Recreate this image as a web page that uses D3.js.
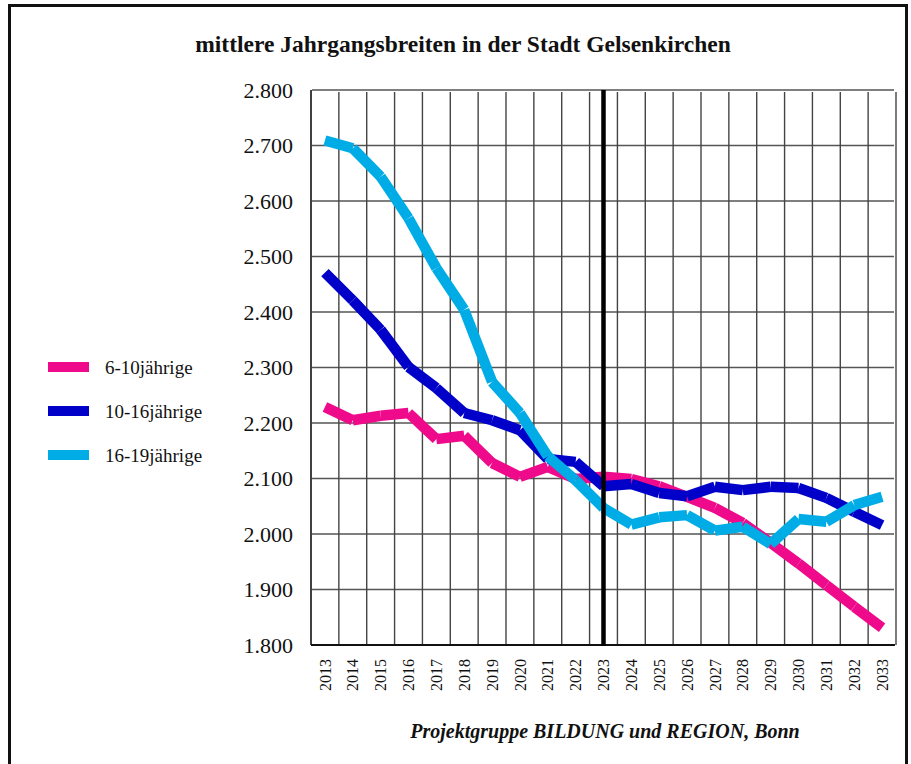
<!DOCTYPE html>
<html>
<head>
<meta charset="utf-8">
<script src="https://cdn.jsdelivr.net/npm/d3@7"></script>
<style>
  body { margin: 0; background: #fff; }
  svg { display: block; }
</style>
</head>
<body>
<script>
var width = 911, height = 764;

var years = ["2013","2014","2015","2016","2017","2018","2019","2020","2021","2022","2023",
             "2024","2025","2026","2027","2028","2029","2030","2031","2032","2033"];
var yTicks = [1.8, 1.9, 2.0, 2.1, 2.2, 2.3, 2.4, 2.5, 2.6, 2.7, 2.8];

var age6to10 = [2.229, 2.205, 2.213, 2.218, 2.171, 2.177, 2.128, 2.103, 2.121, 2.099, 2.103,
                2.099, 2.086, 2.067, 2.047, 2.020, 1.984, 1.947, 1.908, 1.869, 1.831];
var age10to16 = [2.471, 2.421, 2.368, 2.301, 2.263, 2.218, 2.205, 2.187, 2.135, 2.130, 2.086,
                 2.090, 2.074, 2.068, 2.085, 2.079, 2.085, 2.083, 2.065, 2.040, 2.016];
var age16to19 = [2.709, 2.695, 2.644, 2.569, 2.479, 2.404, 2.274, 2.218, 2.140, 2.097, 2.047,
                 2.017, 2.030, 2.034, 2.006, 2.013, 1.982, 2.027, 2.022, 2.052, 2.067];

var seriesNames = ["6-10jährige", "10-16jährige", "16-19jährige"];
var seriesColors = ["#ee0a8a", "#0000c8", "#00ace6"];
var seriesData = [age6to10, age10to16, age16to19];
var markYear = "2023";

var svg = d3.select("body").append("svg")
    .attr("width", width)
    .attr("height", height);

svg.append("rect")
    .attr("width", width).attr("height", height)
    .attr("fill", "#fff");

// frame
svg.append("rect")
    .attr("x", 9.5).attr("y", 5.5)
    .attr("width", 897).attr("height", 820)
    .attr("fill", "none")
    .attr("stroke", "#111")
    .attr("stroke-width", 3);

var x = d3.scaleBand().domain(years).range([311, 896]).padding(0);
var y = d3.scaleLinear().domain([1.8, 2.8]).range([645, 90]);
var cx = function(d) { return x(d) + x.bandwidth() / 2; };

var grid = svg.append("g");

// horizontal grid lines
grid.selectAll(".hline")
    .data(yTicks.slice(1))
    .enter().append("line")
    .attr("x1", 312).attr("x2", 894)
    .attr("y1", function(d) { return y(d); })
    .attr("y2", function(d) { return y(d); })
    .attr("stroke", "#555")
    .attr("stroke-width", 1.4);

// vertical grid lines at category boundaries
var bounds = years.slice(1).map(function(d) { return x(d); }).concat([x.range()[1]]);
grid.selectAll(".vline")
    .data(bounds)
    .enter().append("line")
    .attr("x1", function(d) { return d; })
    .attr("x2", function(d) { return d; })
    .attr("y1", 92).attr("y2", 645)
    .attr("stroke", "#444")
    .attr("stroke-width", 1.4);

// y axis
var yAxis = d3.axisLeft(y)
    .tickValues(yTicks)
    .tickFormat(d3.format(".3f"))
    .tickSize(0)
    .tickPadding(18);

var gy = svg.append("g")
    .attr("transform", "translate(311,0)")
    .call(yAxis);
gy.select(".domain").attr("stroke", "#111").attr("stroke-width", 1.6)
    .attr("d", "M0," + y(2.8) + "V" + y(1.8));
gy.selectAll("text")
    .attr("font-family", "'Liberation Serif', 'Times New Roman', serif")
    .attr("font-size", 22)
    .attr("fill", "#111");

// baseline
svg.append("line")
    .attr("x1", 311).attr("x2", 895)
    .attr("y1", y(1.8)).attr("y2", y(1.8))
    .attr("stroke", "#111")
    .attr("stroke-width", 2);

// x axis labels (rotated)
var xAxis = d3.axisBottom(x).tickSize(0).tickPadding(0);
var gx = svg.append("g")
    .attr("transform", "translate(0," + y(1.8) + ")")
    .call(xAxis);
gx.select(".domain").remove();
gx.selectAll("text")
    .attr("font-family", "'Liberation Serif', 'Times New Roman', serif")
    .attr("font-size", 16)
    .attr("fill", "#111")
    .attr("text-anchor", "end")
    .attr("transform", "rotate(-90)")
    .attr("x", -14)
    .attr("y", 0)
    .attr("dy", "0.35em");

// series, each segment drawn separately with butt caps
seriesData.forEach(function(vals, i) {
    var segs = d3.pairs(years.map(function(yr, j) { return [yr, vals[j]]; }));
    svg.append("g").selectAll("line")
        .data(segs)
        .enter().append("line")
        .attr("x1", function(d) { return cx(d[0][0]); })
        .attr("y1", function(d) { return y(d[0][1]); })
        .attr("x2", function(d) { return cx(d[1][0]); })
        .attr("y2", function(d) { return y(d[1][1]); })
        .attr("stroke", seriesColors[i])
        .attr("stroke-width", 10.5)
        .attr("stroke-linecap", "butt");
});

// bold marker for the base year
svg.append("line")
    .attr("x1", cx(markYear)).attr("x2", cx(markYear))
    .attr("y1", 90).attr("y2", 646)
    .attr("stroke", "#000")
    .attr("stroke-width", 4.5);

// title
svg.append("text")
    .attr("x", 463).attr("y", 52)
    .attr("text-anchor", "middle")
    .attr("font-family", "'Liberation Serif', 'Times New Roman', serif")
    .attr("font-weight", "bold")
    .attr("font-size", 23.5)
    .attr("fill", "#111")
    .text("mittlere Jahrgangsbreiten in der Stadt Gelsenkirchen");

// source note
svg.append("text")
    .attr("x", 605).attr("y", 738)
    .attr("text-anchor", "middle")
    .attr("font-family", "'Liberation Serif', 'Times New Roman', serif")
    .attr("font-weight", "bold")
    .attr("font-style", "italic")
    .attr("font-size", 20)
    .attr("fill", "#111")
    .text("Projektgruppe BILDUNG und REGION, Bonn");

// legend
var legend = svg.append("g").selectAll("g")
    .data(seriesNames)
    .enter().append("g")
    .attr("transform", function(d, i) { return "translate(48," + (367 + i * 44) + ")"; });
legend.append("rect")
    .attr("x", 0).attr("y", -5)
    .attr("width", 41).attr("height", 10)
    .attr("fill", function(d, i) { return seriesColors[i]; });
legend.append("text")
    .attr("x", 57).attr("y", 0)
    .attr("dy", "0.35em")
    .attr("font-family", "'Liberation Serif', 'Times New Roman', serif")
    .attr("font-size", 19)
    .attr("fill", "#111")
    .text(function(d) { return d; });
</script>
</body>
</html>
